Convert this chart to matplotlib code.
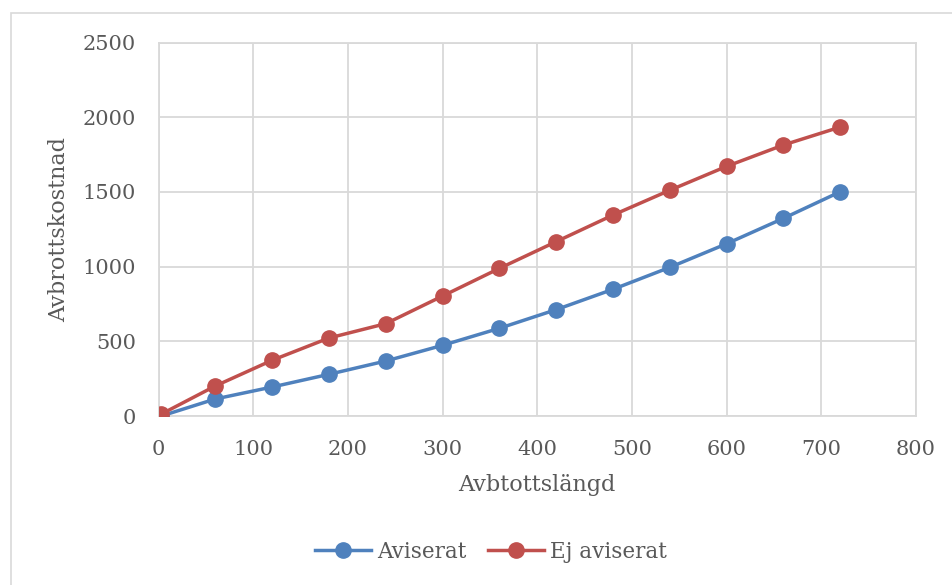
import matplotlib.pyplot as plt
from matplotlib.patches import Rectangle

# data
langd = [3, 60, 120, 180, 240, 300, 360, 420, 480, 540, 600, 660, 720]
aviserat = [0, 114, 194, 279, 368, 473, 587, 712, 848, 995, 1153, 1323, 1501]
ej_aviserat = [13, 201, 373, 522, 618, 803, 988, 1167, 1345, 1511, 1671, 1814, 1934]
xticks = [0, 100, 200, 300, 400, 500, 600, 700, 800]
yticks = [0, 500, 1000, 1500, 2000, 2500]

blue = '#4F81BD'
red = '#C0504D'
grid = '#D9D9D9'
txt = '#595959'

plt.rcParams['font.family'] = ['DejaVu Serif']

fig = plt.figure(figsize=(9.52, 5.85), dpi=100)
# outer chart frame
fig.patches.append(Rectangle((11 / 952, -0.1), 1.2, 1 - 13 / 585 + 0.1,
                             transform=fig.transFigure, fill=False,
                             edgecolor=grid, linewidth=1.2))

ax = fig.add_axes([158.5 / 952, 1 - 416 / 585, (916 - 158.5) / 952, (416 - 42.5) / 585])
ax.plot(langd, aviserat, color=blue, lw=2.5, marker='o', ms=11, label='Aviserat', zorder=3)
ax.plot(langd, ej_aviserat, color=red, lw=2.5, marker='o', ms=11, label='Ej aviserat', zorder=4)

ax.set_xlim(0, 800)
ax.set_ylim(0, 2500)
ax.set_xticks(xticks)
ax.set_yticks(yticks)
ax.grid(True, color=grid, lw=1.3)
ax.set_axisbelow(True)
for s in ax.spines.values():
    s.set_color(grid)
    s.set_linewidth(1.3)
ax.tick_params(length=0, labelsize=15, labelcolor=txt)
ax.tick_params(axis='y', pad=16)
ax.tick_params(axis='x', pad=17)

ax.set_xlabel('Avbtottslängd', fontsize=16, color=txt, labelpad=11)
ax.set_ylabel('Avbrottskostnad', fontsize=16, color=txt, labelpad=9)

fig.legend(loc='center', bbox_to_anchor=(491 / 952, 1 - 552 / 585), ncol=2,
           frameon=False, fontsize=15.5, labelcolor=txt, handlelength=2.6,
           columnspacing=1.0, handletextpad=0.3)

fig.savefig('out.png', dpi=100)
